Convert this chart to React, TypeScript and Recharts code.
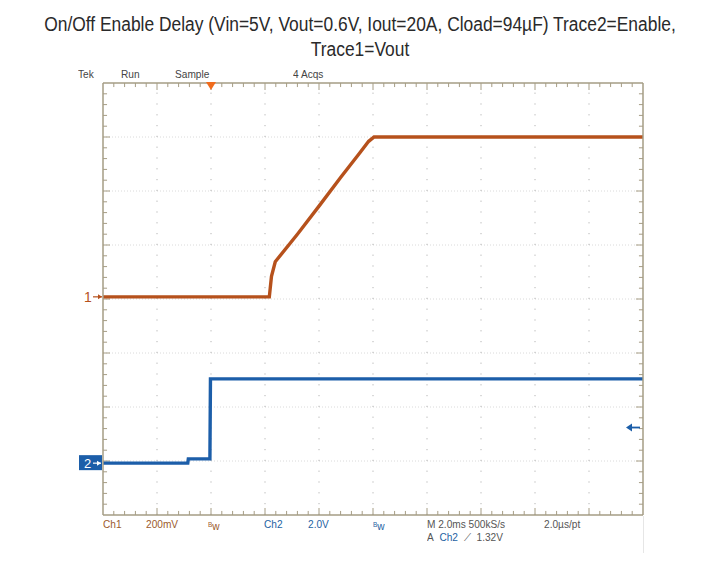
import React from 'react';
import { LineChart, Line, XAxis, YAxis, ReferenceLine, ReferenceDot } from 'recharts';

// time in screen divisions (2.0ms/div), level in divisions from screen centre
const voutTime = [0, 3.08, 3.12, 3.19, 3.6, 4.0, 4.4, 4.75, 4.92, 5.02, 10];
const voutLevel = [0.04, 0.04, 0.42, 0.69, 1.2, 1.72, 2.25, 2.7, 2.92, 3.0, 3.0];
const enableTime = [0, 1.57, 1.58, 1.98, 1.99, 10];
const enableLevel = [-3.04, -3.04, -2.96, -2.96, -1.48, -1.48];

const ch1Ground = 0.04;
const ch2Ground = -3.04;
const triggerTime = 2;
const triggerLevel = -2.38;

const gridX = [1, 2, 3, 4, 5, 6, 7, 8, 9];
const gridY = [-3, -2, -1, 0, 1, 2, 3];
const minorX = Array.from({ length: 49 }, (_, i) => (i + 1) / 5);
const minorY = Array.from({ length: 39 }, (_, i) => (i + 1) / 5 - 4);

const topLabels = [
  { text: 'Tek', x: 78 },
  { text: 'Run', x: 121 },
  { text: 'Sample', x: 175 },
  { text: '4 Acqs', x: 293 },
];

const vout = voutTime.map((t, i) => ({ t, v: voutLevel[i] }));
const enable = enableTime.map((t, i) => ({ t, v: enableLevel[i] }));

const orange = '#b6511c';
const blue = '#1c5ea9';
const frame = '#a59c84';
const ch1Text = '#9c5a2c';
const ch2Text = '#2562a3';

const isMajor = (v: number) => Math.abs(v - Math.round(v)) < 1e-6;
// tick length along the frame, in divisions
const tickLen = (v: number) => (isMajor(v) ? 0.13 : 0.075);

const scopeFont = '"Liberation Sans", Arial, sans-serif';

const txt = (x: number, y: number, color: string): React.CSSProperties => ({
  position: 'absolute',
  left: x,
  top: y,
  color,
  fontFamily: scopeFont,
  fontSize: 11,
  lineHeight: '11px',
  whiteSpace: 'nowrap',
  transform: 'scaleX(0.92)',
  transformOrigin: 'left center',
});

const titleLine = (top: number): React.CSSProperties => ({
  position: 'absolute',
  left: -100,
  top,
  width: 920,
  textAlign: 'center',
  fontFamily: scopeFont,
  fontSize: 20,
  lineHeight: '22px',
  color: '#2a2a2a',
  whiteSpace: 'nowrap',
  transform: 'scaleX(0.87)',
  transformOrigin: '460px 0',
});

export default function App() {
  return (
    <div style={{ position: 'relative', width: 710, height: 561, margin: -8, background: '#fff', overflow: 'hidden' }}>
      <div style={titleLine(13)}>On/Off Enable Delay (Vin=5V, Vout=0.6V, Iout=20A, Cload=94µF) Trace2=Enable,</div>
      <div style={titleLine(38)}>Trace1=Vout</div>

      {topLabels.map((l) => (
        <div key={l.text} style={txt(l.x, 69, '#444')}>{l.text}</div>
      ))}

      <div style={{ position: 'absolute', left: 643, top: 516, width: 1, height: 45, background: '#e6e6e6' }} />

      <LineChart
        width={710}
        height={561}
        margin={{ top: 82, right: 66, bottom: 45, left: 102 }}
        style={{ position: 'absolute', left: 0, top: 0 }}
      >
        <XAxis
          dataKey="t"
          type="number"
          domain={[0, 10]}
          height={1}
          tick={false}
          tickLine={false}
          axisLine={{ stroke: frame, strokeWidth: 1.5 }}
          allowDataOverflow
        />
        <XAxis
          xAxisId="top"
          orientation="top"
          type="number"
          domain={[0, 10]}
          height={1}
          tick={false}
          tickLine={false}
          axisLine={{ stroke: frame, strokeWidth: 1.5 }}
          allowDataOverflow
        />
        <YAxis
          type="number"
          domain={[-4, 4]}
          width={1}
          tick={false}
          tickLine={false}
          axisLine={{ stroke: frame, strokeWidth: 1.5 }}
          allowDataOverflow
        />
        <YAxis
          yAxisId="right"
          orientation="right"
          type="number"
          domain={[-4, 4]}
          width={1}
          tick={false}
          tickLine={false}
          axisLine={{ stroke: frame, strokeWidth: 1.5 }}
          allowDataOverflow
        />

        {gridY.map((v) => (
          <ReferenceLine key={'h' + v} y={v} stroke="#dadada" strokeDasharray="1 2" />
        ))}
        {gridX.map((v) => (
          <ReferenceLine key={'v' + v} x={v} stroke="#b4b4b4" strokeDasharray="1.2 9.6" />
        ))}

        {/* frame ticks, minor every 1/5 division, longer at each division */}
        {minorX.map((v) => (
          <ReferenceLine
            key={'tb' + v}
            segment={[{ x: v, y: -4 }, { x: v, y: -4 + tickLen(v) }]}
            stroke={frame}
            ifOverflow="visible"
          />
        ))}
        {minorX.map((v) => (
          <ReferenceLine
            key={'tt' + v}
            segment={[{ x: v, y: 4 }, { x: v, y: 4 - tickLen(v) }]}
            stroke={frame}
            ifOverflow="visible"
          />
        ))}
        {minorY.map((v) => (
          <ReferenceLine
            key={'tl' + v}
            segment={[{ x: 0, y: v }, { x: tickLen(v), y: v }]}
            stroke={frame}
            ifOverflow="visible"
          />
        ))}
        {minorY.map((v) => (
          <ReferenceLine
            key={'tr' + v}
            segment={[{ x: 10, y: v }, { x: 10 - tickLen(v), y: v }]}
            stroke={frame}
            ifOverflow="visible"
          />
        ))}

        <Line
          data={enable}
          dataKey="v"
          type="linear"
          stroke={blue}
          strokeWidth={3.4}
          dot={false}
          isAnimationActive={false}
        />
        <Line
          data={vout}
          dataKey="v"
          type="linear"
          stroke={orange}
          strokeWidth={3.4}
          dot={false}
          isAnimationActive={false}
        />

        <ReferenceDot
          x={0}
          y={ch1Ground}
          r={0}
          ifOverflow="visible"
          shape={(p: any) => (
            <g>
              <text x={p.cx - 19} y={p.cy + 5} fill={orange} fontSize={14} fontFamily={scopeFont}>1</text>
              <line x1={p.cx - 10} y1={p.cy} x2={p.cx - 1} y2={p.cy} stroke={orange} strokeWidth={1.2} />
              <path d={`M${p.cx - 1},${p.cy} l-4,-2.5 l0,5 z`} fill={orange} />
            </g>
          )}
        />
        <ReferenceDot
          x={0}
          y={ch2Ground}
          r={0}
          ifOverflow="visible"
          shape={(p: any) => (
            <g>
              <rect x={p.cx - 24} y={p.cy - 8} width={23} height={15} fill={blue} />
              <text x={p.cx - 19} y={p.cy + 5} fill="#fff" fontSize={13} fontFamily={scopeFont}>2</text>
              <line x1={p.cx - 10} y1={p.cy} x2={p.cx - 2} y2={p.cy} stroke="#fff" strokeWidth={1.2} />
              <path d={`M${p.cx - 2},${p.cy} l-4,-2.5 l0,5 z`} fill="#fff" />
            </g>
          )}
        />
        <ReferenceDot
          x={triggerTime}
          y={4}
          r={0}
          ifOverflow="visible"
          shape={(p: any) => <path d={`M${p.cx - 5},${p.cy - 1} l10,0 l-5,8 z`} fill="#f06b1c" />}
        />
        <ReferenceDot
          x={10}
          y={triggerLevel}
          r={0}
          ifOverflow="visible"
          shape={(p: any) => (
            <g>
              <line x1={p.cx - 15} y1={p.cy} x2={p.cx - 3} y2={p.cy} stroke={blue} strokeWidth={1.8} />
              <path d={`M${p.cx - 17},${p.cy} l6,-4 l0,8 z`} fill={blue} />
            </g>
          )}
        />
      </LineChart>

      <div style={txt(103, 519, ch1Text)}>Ch1</div>
      <div style={txt(146, 519, ch1Text)}>200mV</div>
      <div style={txt(208, 519, ch1Text)}><span style={{ fontSize: 7, verticalAlign: 3 }}>B</span>w</div>
      <div style={txt(264, 519, ch2Text)}>Ch2</div>
      <div style={txt(308, 519, ch2Text)}>2.0V</div>
      <div style={txt(373, 519, ch2Text)}><span style={{ fontSize: 7, verticalAlign: 3 }}>B</span>w</div>
      <div style={txt(427, 519, '#555')}>M 2.0ms 500kS/s</div>
      <div style={txt(544, 519, '#555')}>2.0µs/pt</div>
      <div style={txt(427, 532, '#555')}>
        A&nbsp;&nbsp;<span style={{ color: ch2Text }}>Ch2</span>&nbsp;&nbsp;⟋&nbsp;&nbsp;1.32V
      </div>
    </div>
  );
}
